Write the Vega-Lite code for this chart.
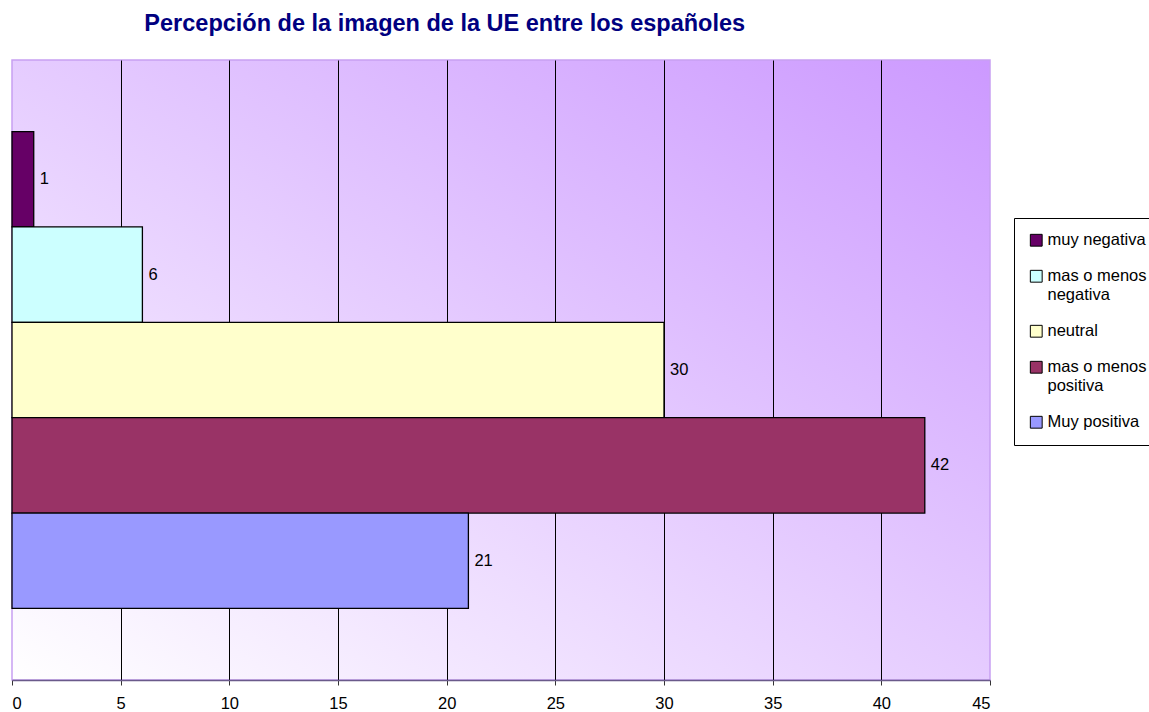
{
  "$schema": "https://vega.github.io/schema/vega-lite/v6.json",
  "width": 978,
  "height": 620,
  "autosize": {"type": "none"},
  "padding": {"left": 12, "top": 60, "right": 159, "bottom": 32},
  "background": "white",
  "title": {
    "text": "Percepción de la imagen de la UE entre los españoles",
    "anchor": "start",
    "dx": 133,
    "dy": 21,
    "font": "Liberation Sans",
    "fontSize": 23.5,
    "fontWeight": "bold",
    "color": "#000080",
    "baseline": "alphabetic",
    "offset": 27
  },
  "data": {
    "values": [
      {"imagen": "muy negativa", "porcentaje": 1},
      {"imagen": "mas o menos negativa", "porcentaje": 6},
      {"imagen": "neutral", "porcentaje": 30},
      {"imagen": "mas o menos positiva", "porcentaje": 42},
      {"imagen": "Muy positiva", "porcentaje": 21}
    ]
  },
  "view": {
    "fill": {
      "gradient": "linear",
      "x1": 0, "y1": 1, "x2": 1, "y2": 0,
      "stops": [
        {"offset": 0, "color": "#FFFFFF"},
        {"offset": 1, "color": "#CC99FF"}
      ]
    },
    "stroke": "#C8A0F2",
    "strokeWidth": 1.5
  },
  "encoding": {
    "y": {
      "field": "imagen",
      "type": "nominal",
      "sort": ["muy negativa", "mas o menos negativa", "neutral", "mas o menos positiva", "Muy positiva"],
      "axis": null,
      "scale": {"paddingInner": 0, "paddingOuter": 0.75}
    },
    "x": {
      "field": "porcentaje",
      "type": "quantitative",
      "scale": {"domain": [0, 45], "nice": false},
      "axis": {
        "title": null,
        "values": [0, 5, 10, 15, 20, 25, 30, 35, 40, 45],
        "labelFont": "Liberation Sans",
        "labelFontSize": 16.5,
        "labelColor": "black",
        "labelPadding": 10,
        "tickColor": "#333333",
        "tickSize": 5,
        "domainColor": "#6A5A8A",
        "domainWidth": 1.5,
        "gridColor": {
          "condition": {"test": "datum.value == 0 || datum.value == 45", "value": "rgba(0,0,0,0)"},
          "value": "#000000"
        },
        "gridWidth": 1,
        "gridOpacity": 1
      }
    }
  },
  "layer": [
    {
      "mark": {"type": "bar", "stroke": "black", "strokeWidth": 1.3},
      "encoding": {
        "color": {
          "field": "imagen",
          "type": "nominal",
          "scale": {
            "domain": ["muy negativa", "mas o menos negativa", "neutral", "mas o menos positiva", "Muy positiva"],
            "range": ["#660066", "#CCFFFF", "#FFFFCC", "#993366", "#9999FF"]
          },
          "legend": {
            "orient": "none",
            "legendX": 1002,
            "legendY": 158,
            "title": null,
            "strokeColor": "black",
            "fillColor": "white",
            "padding": 14,
            "symbolType": "square",
            "symbolSize": 140,
            "symbolStrokeColor": "black",
            "symbolStrokeWidth": 1,
            "symbolOpacity": 1,
            "labelFont": "Liberation Sans",
            "labelFontSize": 16.5,
            "labelColor": "black",
            "labelLimit": 300,
            "labelOffset": 3,
            "rowPadding": 19,
            "labelExpr": "indexof(datum.label, 'mas o menos ') == 0 ? ['mas o menos', substring(datum.label, 12)] : datum.label"
          }
        }
      }
    },
    {
      "mark": {
        "type": "text",
        "align": "left",
        "baseline": "middle",
        "dx": 6,
        "font": "Liberation Sans",
        "fontSize": 16.5,
        "color": "black"
      },
      "encoding": {
        "text": {"field": "porcentaje", "type": "quantitative"}
      }
    }
  ]
}
